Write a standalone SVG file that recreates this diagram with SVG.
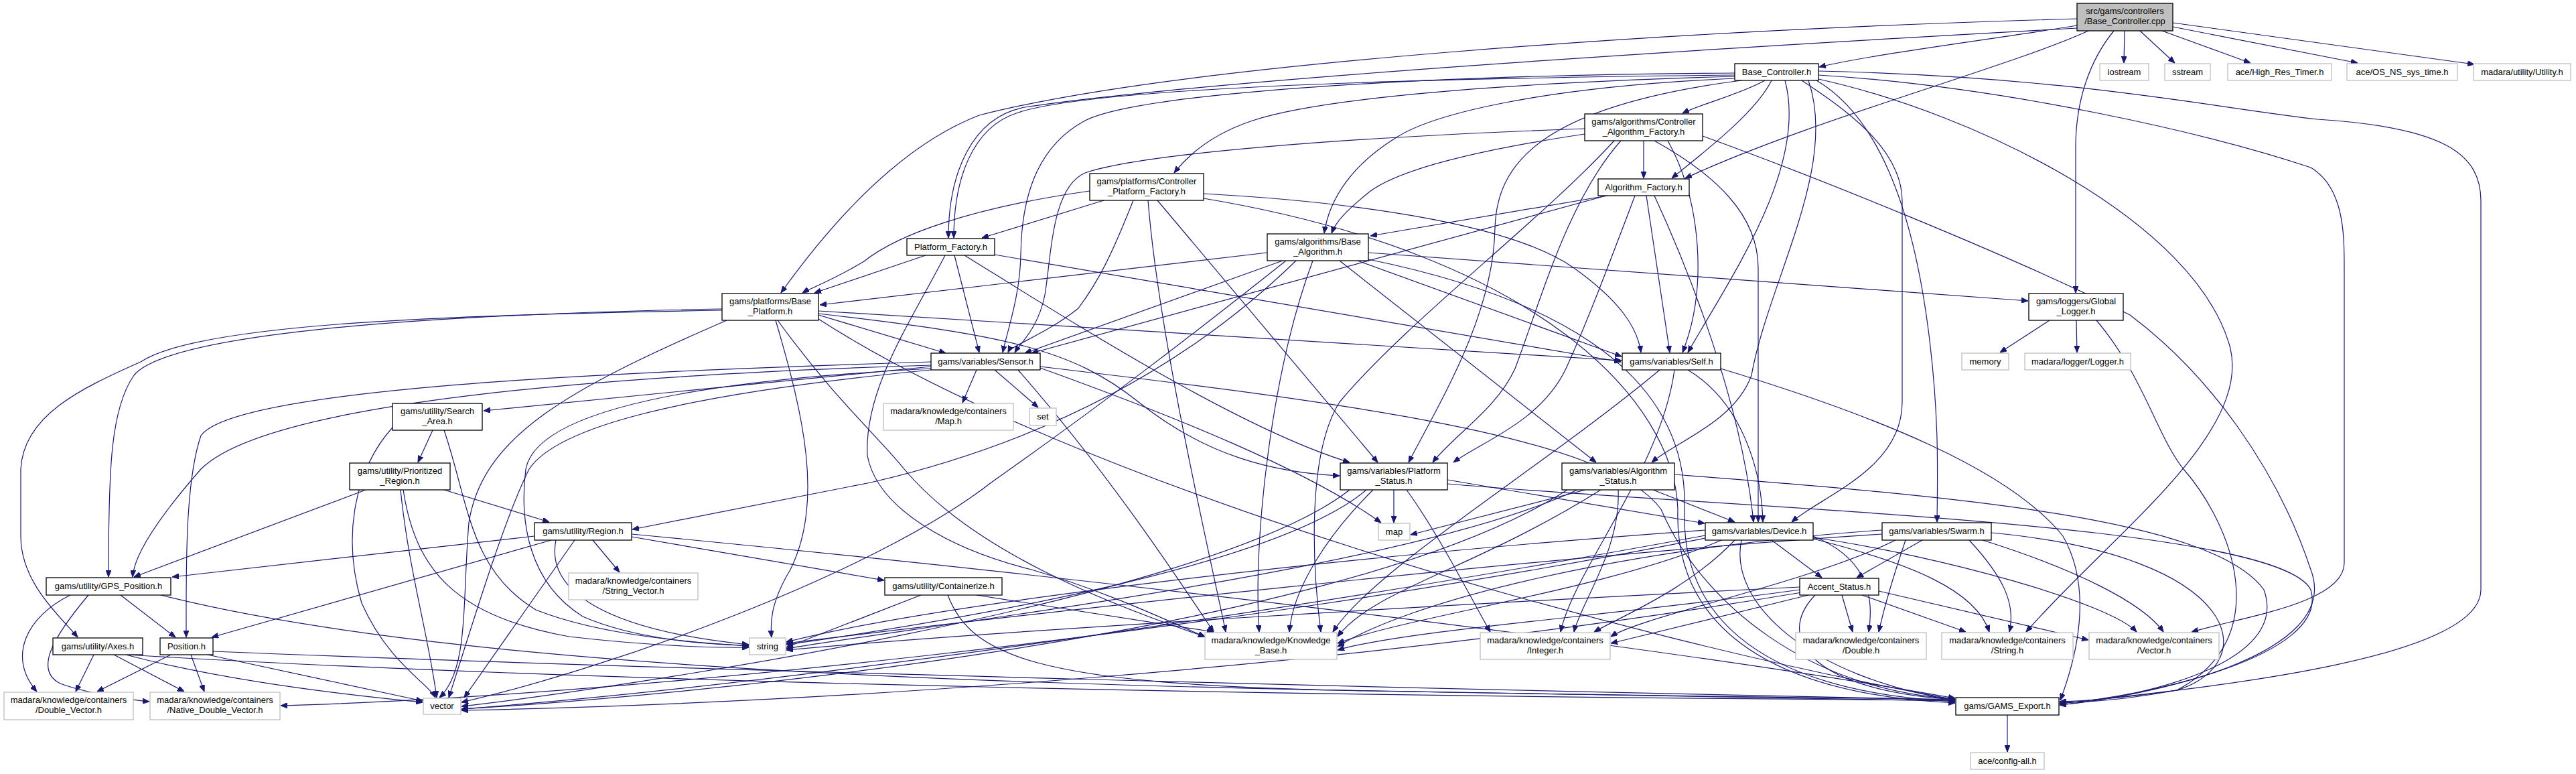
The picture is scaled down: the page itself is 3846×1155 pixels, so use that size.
<svg xmlns="http://www.w3.org/2000/svg" width="3846" height="1155" viewBox="0 0 3846 1155">
<style>
.n rect{fill:#fff;stroke:#000;stroke-width:1.3}
.l rect{fill:#fff;stroke:#bfbfbf;stroke-width:1.3}
.r rect{fill:#bfbfbf;stroke:#000;stroke-width:1.3}
text{font-family:"Liberation Sans",Arial,Helvetica,sans-serif;font-size:13px;text-anchor:middle;fill:#000}
#edges path{fill:none;stroke:#191970;stroke-width:1.2;marker-end:url(#a)}
</style>
<defs>
<marker id="a" viewBox="0 0 10 8" refX="10" refY="4" markerWidth="10" markerHeight="8" markerUnits="userSpaceOnUse" orient="auto">
<path d="M0,0 L10,4 L0,8 z" fill="#191970" stroke="#191970"/>
</marker>
</defs>
<rect width="3846" height="1155" fill="#fff"/>
<g id="edges">
<path d="M3101,38 C3000,55 2800,80 2716,100"/>
<path d="M3172,46 L3171,94"/>
<path d="M3195,46 L3247,94"/>
<path d="M3228,46 L3360,94"/>
<path d="M3244,40 L3520,94"/>
<path d="M3244,34 L3694,96"/>
<path d="M3118,46 C3000,100 2700,180 2516,266"/>
<path d="M3156,46 C3120,90 3099,150 3099,220 L3099,437"/>
<path d="M3101,28 C2500,45 1760,95 1462,172 C1350,215 1250,320 1166,437"/>
<path d="M3101,42 C2500,75 1800,120 1530,160 C1450,175 1416,260 1416,355"/>
<path d="M2590,112 C2000,118 1620,135 1520,168 C1450,190 1424,270 1424,355"/>
<path d="M2635,120 C2600,140 2540,155 2512,169"/>
<path d="M2645,120 C2620,170 2540,230 2496,266"/>
<path d="M2590,114 C2200,125 1960,150 1870,180 C1810,200 1775,230 1753,258"/>
<path d="M2590,117 C2300,130 2140,170 2085,205 C2020,245 1985,295 1977,348"/>
<path d="M2590,109 C2100,112 1700,140 1620,180 C1545,220 1525,300 1524,380 C1523,440 1505,490 1497,526"/>
<path d="M2665,120 C2700,250 2580,420 2520,526"/>
<path d="M2600,120 C2290,160 2235,250 2232,340 C2230,470 2150,600 2103,690"/>
<path d="M2700,120 C2745,250 2640,420 2615,560 C2590,630 2500,660 2466,690"/>
<path d="M2690,120 C2750,160 2840,220 2840,300 L2840,600 C2840,700 2720,740 2675,779"/>
<path d="M2712,120 C2780,160 2850,260 2880,500 C2895,620 2893,700 2892,779"/>
<path d="M2715,118 C2950,170 3280,330 3330,520 C3360,650 3150,800 3025,943"/>
<path d="M2715,112 C3000,130 3300,200 3450,250 C3500,280 3500,350 3500,400 L3500,840 C3500,900 3350,920 3272,943"/>
<path d="M2715,106 C3100,115 3300,160 3460,178 C3650,190 3704,230 3704,300 L3704,880 C3704,990 3250,1030 3075,1050"/>
<path d="M2454,210 L2454,266"/>
<path d="M2366,200 C2200,225 2080,255 2040,290 C2010,315 1995,330 1988,348"/>
<path d="M2366,192 C2000,205 1700,230 1620,258 C1570,280 1570,380 1560,440 C1550,490 1525,510 1515,526"/>
<path d="M2490,210 C2540,300 2550,430 2512,526"/>
<path d="M2420,210 C2340,300 2300,450 2262,550 C2235,610 2170,650 2139,690"/>
<path d="M2410,210 C2300,330 2100,480 2000,600 C1950,680 1960,850 1972,943"/>
<path d="M2542,203 C2700,260 3000,380 3180,470 C3300,560 3400,700 3450,850 C3500,980 3200,1040 3075,1052"/>
<path d="M2470,210 C2560,260 2625,320 2625,400 L2625,779"/>
<path d="M2400,292 L2046,352"/>
<path d="M2398,292 L1540,527"/>
<path d="M2458,292 L2493,526"/>
<path d="M2441,292 C2400,400 2370,480 2338,550 C2300,630 2210,660 2170,690"/>
<path d="M2470,292 C2520,400 2600,600 2618,779"/>
<path d="M1648,299 L1466,355"/>
<path d="M1627,285 C1450,310 1340,350 1290,390 C1240,420 1210,430 1198,437"/>
<path d="M1692,299 C1660,380 1640,420 1610,460 C1560,500 1510,515 1505,526"/>
<path d="M1728,299 L2057,690"/>
<path d="M1714,299 C1730,500 1800,800 1830,943"/>
<path d="M1797,289 C2000,300 2250,330 2350,400 C2420,450 2445,490 2450,526"/>
<path d="M1797,296 C2300,380 2500,600 2505,760 C2500,920 2620,1035 2919,1049"/>
<path d="M1382,381 L1216,437"/>
<path d="M1425,381 L1462,526"/>
<path d="M1485,380 L2420,540"/>
<path d="M1440,381 C1600,480 1850,640 2015,690"/>
<path d="M1411,381 C1360,480 1290,580 1295,680 C1310,760 1420,820 1540,850 C1660,885 1750,930 1799,950"/>
<path d="M1892,377 L1224,455"/>
<path d="M1915,389 L1530,527"/>
<path d="M2027,389 L2421,532"/>
<path d="M2043,377 L3028,449"/>
<path d="M2000,389 L2383,690"/>
<path d="M1935,389 C1800,520 1600,650 1300,720 C1100,760 1000,780 944,790"/>
<path d="M1960,389 C1900,550 1870,800 1880,943"/>
<path d="M1920,389 C1780,500 1650,600 1480,720 C1300,860 900,1000 689,1048"/>
<path d="M2043,387 C2400,460 2520,600 2515,760 C2510,900 2600,1030 2919,1047"/>
<path d="M1222,470 L1412,527"/>
<path d="M1222,464 L2421,538"/>
<path d="M1078,461 C600,470 250,500 200,560 C165,610 162,700 162,861"/>
<path d="M1078,463 C700,470 300,480 210,540 C120,580 35,620 31,700 L31,800 C31,870 90,920 116,951"/>
<path d="M1222,468 C1500,500 1600,520 1700,600 C1800,680 1900,705 2000,710"/>
<path d="M1161,478 C1250,600 1310,650 1350,700 C1450,820 1650,900 1799,950"/>
<path d="M1085,478 C850,580 720,650 700,780 C690,900 700,1000 656,1041"/>
<path d="M1222,476 C1600,720 2400,950 2919,1044"/>
<path d="M1158,478 C1200,620 1230,750 1180,850 C1150,900 1150,930 1152,951"/>
<path d="M1458,552 L1437,601"/>
<path d="M1485,552 L1550,608"/>
<path d="M1390,547 L722,613"/>
<path d="M1390,545 C900,560 400,600 300,700 C230,780 200,830 198,861"/>
<path d="M1390,540 C900,555 350,580 300,650 C276,720 278,850 278,951"/>
<path d="M1390,550 C1000,570 800,620 785,700 C775,780 790,870 870,920 C950,955 1060,962 1118,963"/>
<path d="M1390,552 C1000,590 830,640 790,700 C750,780 700,950 670,1041"/>
<path d="M1553,549 C1750,620 1950,700 2062,780"/>
<path d="M1520,552 C1650,700 1750,850 1812,943"/>
<path d="M1553,547 C2000,600 2400,650 2480,760 C2540,900 2700,1030 2919,1043"/>
<path d="M646,642 L624,690"/>
<path d="M663,642 C700,750 700,850 800,910 C900,950 1050,960 1118,964"/>
<path d="M586,638 C530,700 510,800 540,900 C580,990 640,1020 650,1041"/>
<path d="M663,731 L820,779"/>
<path d="M546,731 L200,861"/>
<path d="M602,731 C620,850 680,920 850,950 C980,965 1080,967 1118,966"/>
<path d="M598,731 C610,850 640,950 652,1041"/>
<path d="M798,800 L257,861"/>
<path d="M823,806 L316,951"/>
<path d="M885,806 L925,854"/>
<path d="M943,801 L1320,866"/>
<path d="M830,806 C815,880 900,940 1118,962"/>
<path d="M858,806 L693,1041"/>
<path d="M943,797 C1500,850 2400,950 2919,1042"/>
<path d="M180,888 L262,951"/>
<path d="M105,888 C40,920 10,980 55,1032"/>
<path d="M132,888 C80,950 50,1000 90,1020 C130,1035 200,1045 223,1047"/>
<path d="M240,888 C800,1030 2000,1030 2919,1044"/>
<path d="M140,977 L113,1032"/>
<path d="M170,977 L275,1032"/>
<path d="M188,977 C350,1020 550,1040 631,1048"/>
<path d="M190,977 C900,1020 2000,1040 2919,1045"/>
<path d="M255,977 L145,1032"/>
<path d="M285,977 L305,1032"/>
<path d="M310,977 L631,1046"/>
<path d="M318,972 C1000,1000 2200,1030 2919,1044"/>
<path d="M1375,888 L1174,966"/>
<path d="M1458,888 L1812,943"/>
<path d="M1415,888 C1450,980 1550,1020 2000,1030 C2500,1040 2800,1044 2919,1046"/>
<path d="M2520,552 C2600,600 2630,700 2632,779"/>
<path d="M2569,550 C2800,620 3000,700 3080,800 C3120,870 3108,960 3076,1045"/>
<path d="M2478,552 C2300,700 2050,850 1990,943"/>
<path d="M2500,552 C2480,700 2350,850 2330,943"/>
<path d="M2081,731 L2081,780"/>
<path d="M2040,731 C1900,850 1400,930 1174,962"/>
<path d="M2015,731 C1800,900 900,1030 689,1054"/>
<path d="M2050,731 C1980,800 1930,880 1925,943"/>
<path d="M2100,731 C2150,800 2200,900 2225,943"/>
<path d="M2161,716 L2545,781"/>
<path d="M2161,722 C2600,760 3400,780 3450,880 C3480,980 3200,1040 3075,1050"/>
<path d="M2367,731 L2106,798"/>
<path d="M2355,731 C2100,850 1400,930 1174,968"/>
<path d="M2340,731 C2000,950 1000,1040 689,1058"/>
<path d="M2390,731 C2200,850 2050,880 1997,950"/>
<path d="M2416,731 C2420,820 2360,900 2350,943"/>
<path d="M2468,731 L2590,779"/>
<path d="M2500,708 C2900,740 3300,770 3380,880 C3420,990 3200,1040 3075,1052"/>
<path d="M2645,806 L2720,862"/>
<path d="M2707,800 C2780,830 2800,880 2790,943"/>
<path d="M2707,804 C2850,840 2950,880 2970,943"/>
<path d="M2590,806 C2520,880 2420,920 2380,943"/>
<path d="M2707,802 C2900,830 3150,900 3190,943"/>
<path d="M2570,806 C2400,880 2100,920 1997,960"/>
<path d="M2546,791 C2000,830 1400,900 1174,958"/>
<path d="M2546,799 C2000,900 1200,1020 689,1058"/>
<path d="M2546,803 C1800,950 900,1040 419,1053"/>
<path d="M2600,806 C2580,900 2700,1010 2919,1045"/>
<path d="M2870,806 L2772,862"/>
<path d="M2845,806 C2820,880 2810,920 2805,943"/>
<path d="M2940,806 C2990,860 3010,900 3000,943"/>
<path d="M2960,806 C3100,850 3200,900 3230,943"/>
<path d="M2830,806 C2700,870 2450,920 2405,950"/>
<path d="M2810,791 C2400,820 2100,900 1997,965"/>
<path d="M2810,797 C2300,830 1500,920 1174,960"/>
<path d="M2973,795 C3350,830 3380,990 3250,1030 C3150,1048 3100,1048 3075,1048"/>
<path d="M2750,888 L2766,943"/>
<path d="M2780,888 L2935,943"/>
<path d="M2805,882 L3118,955"/>
<path d="M2700,888 L2405,960"/>
<path d="M2687,880 C2400,920 2100,940 1997,970"/>
<path d="M2687,876 C2200,900 1500,940 1174,970"/>
<path d="M2690,884 C2000,1000 1200,1050 689,1060"/>
<path d="M2710,888 C2650,950 2700,1030 2919,1044"/>
<path d="M3060,478 L2986,526"/>
<path d="M3100,478 L3101,526"/>
<path d="M3130,478 C3200,560 3220,650 3260,700 C3330,780 3400,950 3250,1030 C3150,1045 3100,1046 3075,1047"/>
<path d="M2997,1067 L2997,1122"/>
</g>
<g id="n_root" class="r"><rect x="3101" y="5" width="143" height="41"/><text x="3172.5" y="21">src/gams/controllers</text><text x="3172.5" y="36">/Base_Controller.cpp</text></g>
<g id="n_base_controller" class="n"><rect x="2590" y="95" width="125" height="25"/><text x="2652.5" y="112">Base_Controller.h</text></g>
<g id="n_iostream" class="l"><rect x="3135" y="95" width="73" height="25"/><text x="3171.5" y="112">iostream</text></g>
<g id="n_sstream" class="l"><rect x="3232" y="95" width="68" height="25"/><text x="3266" y="112">sstream</text></g>
<g id="n_hrt" class="l"><rect x="3326" y="95" width="155" height="25"/><text x="3403.5" y="112">ace/High_Res_Timer.h</text></g>
<g id="n_os" class="l"><rect x="3504" y="95" width="165" height="25"/><text x="3586.5" y="112">ace/OS_NS_sys_time.h</text></g>
<g id="n_utility" class="l"><rect x="3693" y="95" width="145" height="25"/><text x="3765.5" y="112">madara/utility/Utility.h</text></g>
<g id="n_caf" class="n"><rect x="2366" y="170" width="176" height="40"/><text x="2454" y="186">gams/algorithms/Controller</text><text x="2454" y="201">_Algorithm_Factory.h</text></g>
<g id="n_af" class="n"><rect x="2386" y="267" width="136" height="25"/><text x="2454" y="284">Algorithm_Factory.h</text></g>
<g id="n_cpf" class="n"><rect x="1627" y="259" width="170" height="40"/><text x="1712" y="275">gams/platforms/Controller</text><text x="1712" y="290">_Platform_Factory.h</text></g>
<g id="n_pf" class="n"><rect x="1354" y="356" width="131" height="25"/><text x="1419.5" y="373">Platform_Factory.h</text></g>
<g id="n_ba" class="n"><rect x="1892" y="349" width="151" height="40"/><text x="1967.5" y="365">gams/algorithms/Base</text><text x="1967.5" y="380">_Algorithm.h</text></g>
<g id="n_gl" class="n"><rect x="3029" y="438" width="141" height="40"/><text x="3099.5" y="454">gams/loggers/Global</text><text x="3099.5" y="469">_Logger.h</text></g>
<g id="n_bp" class="n"><rect x="1078" y="438" width="144" height="40"/><text x="1150" y="454">gams/platforms/Base</text><text x="1150" y="469">_Platform.h</text></g>
<g id="n_self" class="n"><rect x="2422" y="527" width="147" height="25"/><text x="2495.5" y="544">gams/variables/Self.h</text></g>
<g id="n_sensor" class="n"><rect x="1390" y="527" width="163" height="25"/><text x="1471.5" y="544">gams/variables/Sensor.h</text></g>
<g id="n_memory" class="l"><rect x="2929" y="527" width="70" height="25"/><text x="2964" y="544">memory</text></g>
<g id="n_logger" class="l"><rect x="3023" y="527" width="158" height="25"/><text x="3102" y="544">madara/logger/Logger.h</text></g>
<g id="n_map_h" class="l"><rect x="1319" y="602" width="194" height="40"/><text x="1416" y="618">madara/knowledge/containers</text><text x="1416" y="633">/Map.h</text></g>
<g id="n_set" class="l"><rect x="1537" y="609" width="40" height="26"/><text x="1557" y="626">set</text></g>
<g id="n_search_area" class="n"><rect x="586" y="602" width="134" height="40"/><text x="653" y="618">gams/utility/Search</text><text x="653" y="633">_Area.h</text></g>
<g id="n_prio_region" class="n"><rect x="522" y="691" width="150" height="40"/><text x="597" y="707">gams/utility/Prioritized</text><text x="597" y="722">_Region.h</text></g>
<g id="n_platform_status" class="n"><rect x="2001" y="691" width="160" height="40"/><text x="2081" y="707">gams/variables/Platform</text><text x="2081" y="722">_Status.h</text></g>
<g id="n_algorithm_status" class="n"><rect x="2332" y="691" width="168" height="40"/><text x="2416" y="707">gams/variables/Algorithm</text><text x="2416" y="722">_Status.h</text></g>
<g id="n_region" class="n"><rect x="798" y="780" width="145" height="26"/><text x="870.5" y="797">gams/utility/Region.h</text></g>
<g id="n_map" class="l"><rect x="2058" y="781" width="47" height="25"/><text x="2081.5" y="798">map</text></g>
<g id="n_device" class="n"><rect x="2546" y="780" width="161" height="26"/><text x="2626.5" y="797">gams/variables/Device.h</text></g>
<g id="n_swarm" class="n"><rect x="2810" y="780" width="163" height="26"/><text x="2891.5" y="797">gams/variables/Swarm.h</text></g>
<g id="n_gps" class="n"><rect x="69" y="862" width="186" height="26"/><text x="162" y="879">gams/utility/GPS_Position.h</text></g>
<g id="n_string_vector" class="l"><rect x="849" y="855" width="193" height="40"/><text x="945.5" y="871">madara/knowledge/containers</text><text x="945.5" y="886">/String_Vector.h</text></g>
<g id="n_containerize" class="n"><rect x="1321" y="862" width="175" height="26"/><text x="1408.5" y="879">gams/utility/Containerize.h</text></g>
<g id="n_accent" class="n"><rect x="2687" y="863" width="118" height="25"/><text x="2746" y="880">Accent_Status.h</text></g>
<g id="n_axes" class="n"><rect x="79" y="952" width="134" height="25"/><text x="146" y="969">gams/utility/Axes.h</text></g>
<g id="n_position" class="n"><rect x="239" y="952" width="79" height="25"/><text x="278.5" y="969">Position.h</text></g>
<g id="n_string" class="l"><rect x="1119" y="952" width="54" height="25"/><text x="1146" y="969">string</text></g>
<g id="n_kb" class="l"><rect x="1799" y="944" width="197" height="40"/><text x="1897.5" y="960">madara/knowledge/Knowledge</text><text x="1897.5" y="975">_Base.h</text></g>
<g id="n_integer" class="l"><rect x="2210" y="944" width="194" height="40"/><text x="2307" y="960">madara/knowledge/containers</text><text x="2307" y="975">/Integer.h</text></g>
<g id="n_double" class="l"><rect x="2681" y="944" width="195" height="40"/><text x="2778.5" y="960">madara/knowledge/containers</text><text x="2778.5" y="975">/Double.h</text></g>
<g id="n_string_c" class="l"><rect x="2899" y="944" width="196" height="40"/><text x="2997" y="960">madara/knowledge/containers</text><text x="2997" y="975">/String.h</text></g>
<g id="n_vector_c" class="l"><rect x="3119" y="944" width="194" height="40"/><text x="3216" y="960">madara/knowledge/containers</text><text x="3216" y="975">/Vector.h</text></g>
<g id="n_double_vector" class="l"><rect x="6" y="1033" width="193" height="41"/><text x="102.5" y="1049">madara/knowledge/containers</text><text x="102.5" y="1064">/Double_Vector.h</text></g>
<g id="n_native_dv" class="l"><rect x="224" y="1033" width="194" height="41"/><text x="321" y="1049">madara/knowledge/containers</text><text x="321" y="1064">/Native_Double_Vector.h</text></g>
<g id="n_vector" class="l"><rect x="632" y="1042" width="56" height="24"/><text x="660" y="1058">vector</text></g>
<g id="n_gams_export" class="n"><rect x="2920" y="1041" width="154" height="26"/><text x="2997" y="1058">gams/GAMS_Export.h</text></g>
<g id="n_config_all" class="l"><rect x="2942" y="1123" width="110" height="25"/><text x="2997" y="1140">ace/config-all.h</text></g>
</svg>
